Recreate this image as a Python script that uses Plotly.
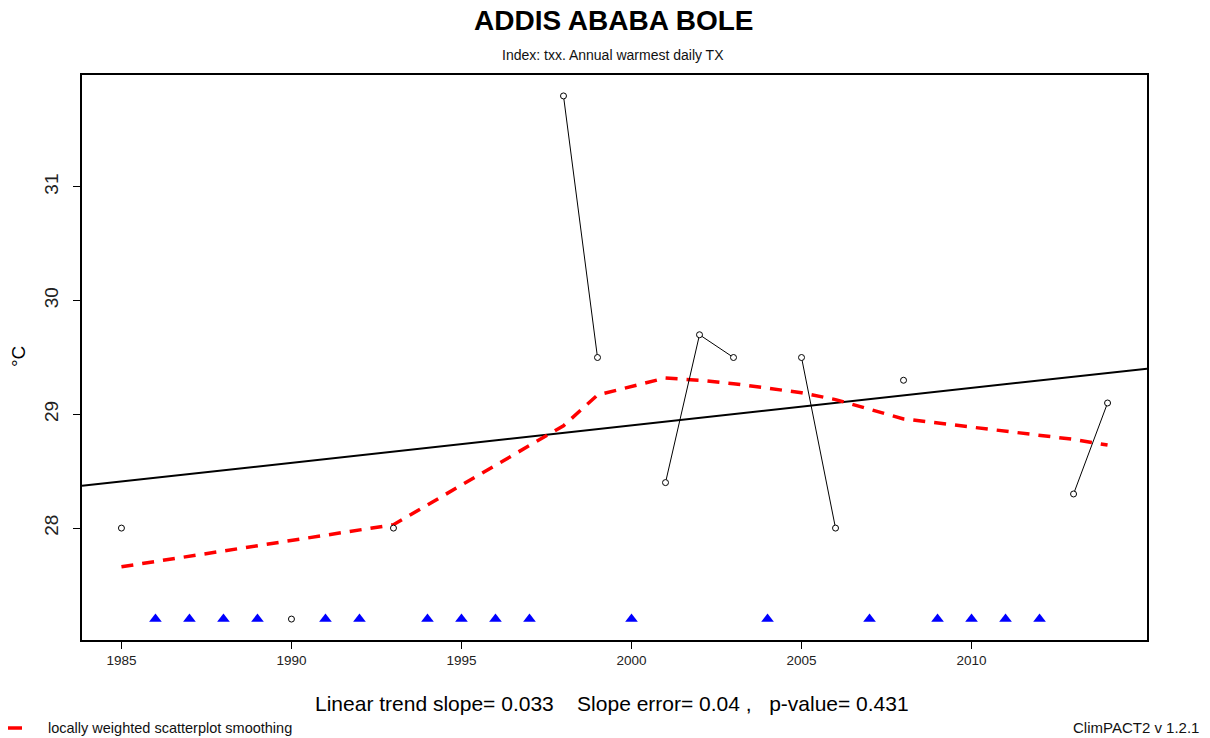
import numpy as np
import plotly.graph_objects as go

# Annual warmest daily maximum temperature (TXx), Addis Ababa Bole
data_years = [1985, 1990, 1993, 1998, 1999, 2001, 2002, 2003, 2005, 2006, 2008, 2013, 2014]
txx = [28.0, 27.2, 28.0, 31.8, 29.5, 28.4, 29.7, 29.5, 29.5, 28.0, 29.3, 28.3, 29.1]

# Years with no valid annual value
missing_years = [1986, 1987, 1988, 1989, 1991, 1992, 1994, 1995, 1996, 1997,
                 2000, 2004, 2007, 2009, 2010, 2011, 2012]

# Locally weighted smoothing evaluated at the observed years
loess_txx = [27.66, 27.89, 28.03, 28.90, 29.17, 29.32, 29.30, 29.27, 29.19, 29.13,
             28.96, 28.78, 28.73]

x_ticks = [1985, 1990, 1995, 2000, 2005, 2010]
y_ticks = [28, 29, 30, 31]

title_text = "ADDIS ABABA BOLE"
subtitle_text = "Index: txx. Annual warmest daily TX"
stats_text = "Linear trend slope= 0.033    Slope error= 0.04 ,   p-value= 0.431"
legend_text = "locally weighted scatterplot smoothing"
credit_text = "ClimPACT2 v 1.2.1"

FONT = "Liberation Sans, Arial, sans-serif"

# full yearly series with gaps so only consecutive years are joined
all_years = list(range(min(data_years), max(data_years) + 1))
lookup = dict(zip(data_years, txx))
series = [lookup.get(y) for y in all_years]

# axis extents with the usual 4% padding
x_lo, x_hi = min(all_years), max(all_years)
x_pad = (x_hi - x_lo) * 0.04
y_lo, y_hi = min(txx), max(txx)
y_pad = (y_hi - y_lo) * 0.04
x_range = [x_lo - x_pad, x_hi + x_pad]
y_range = [y_lo - y_pad, y_hi + y_pad]

# least-squares trend across the whole panel
slope, intercept = np.polyfit(data_years, txx, 1)
trend_x = x_range
trend_y = [slope * x + intercept for x in trend_x]

fig = go.Figure()

fig.add_trace(go.Scatter(
    x=trend_x, y=trend_y, mode="lines",
    line=dict(color="black", width=2), hoverinfo="skip", showlegend=False))

fig.add_trace(go.Scatter(
    x=data_years, y=loess_txx, mode="lines",
    line=dict(color="#ff0000", width=3.5, dash="12px,9px"),
    showlegend=False))

fig.add_trace(go.Scatter(
    x=all_years, y=series, mode="lines+markers", connectgaps=False,
    line=dict(color="black", width=1),
    marker=dict(symbol="circle", size=6, color="white",
                line=dict(color="black", width=1)),
    showlegend=False))

fig.add_trace(go.Scatter(
    x=missing_years, y=[y_lo] * len(missing_years), mode="markers",
    marker=dict(symbol="triangle-up", size=11, color="#0000ff",
                line=dict(width=0)),
    showlegend=False))

L, R, T, B = 82, 63, 75, 98
W, H = 1210, 738
pw, ph = W - L - R, H - T - B


def px(xp):
    return (xp - L) / pw


def py(yp):
    return (H - B - yp) / ph


annotations = [
    dict(text=f"<b>{title_text}</b>", x=px(613), y=py(20), xref="paper", yref="paper",
         showarrow=False, font=dict(family=FONT, size=28, color="black"),
         xanchor="center", yanchor="middle"),
    dict(text=subtitle_text, x=px(613), y=py(55), xref="paper", yref="paper",
         showarrow=False, font=dict(family=FONT, size=14, color="#111"),
         xanchor="center", yanchor="middle"),
    dict(text=stats_text.replace(" ", "\u00a0"), x=px(612), y=py(703), xref="paper", yref="paper",
         showarrow=False, font=dict(family=FONT, size=21, color="black"),
         xanchor="center", yanchor="middle"),
    dict(text=legend_text, x=px(46), y=py(728), xref="paper", yref="paper",
         showarrow=False, font=dict(family=FONT, size=14.5, color="#111"),
         xanchor="left", yanchor="middle"),
    dict(text=credit_text, x=px(1201), y=py(728), xref="paper", yref="paper",
         showarrow=False, font=dict(family=FONT, size=15, color="#111"),
         xanchor="right", yanchor="middle"),
    dict(text="°C", x=px(18), y=py(357), xref="paper", yref="paper",
         showarrow=False, textangle=-90, font=dict(family=FONT, size=19, color="black"),
         xanchor="center", yanchor="middle"),
]

shapes = [
    # legend key for the smoothing line
    dict(type="line", xref="paper", yref="paper",
         x0=px(8), x1=px(22), y0=py(728), y1=py(728),
         line=dict(color="#ff0000", width=3.5)),
]

fig.update_layout(
    width=W, height=H,
    margin=dict(l=L, r=R, t=T, b=B, pad=0),
    paper_bgcolor="white", plot_bgcolor="white",
    font=dict(family=FONT, color="black"),
    annotations=annotations, shapes=shapes,
    showlegend=False,
    xaxis=dict(range=x_range, tickvals=x_ticks, ticktext=[str(v) for v in x_ticks],
               showgrid=False, zeroline=False, showline=True, linecolor="black",
               linewidth=1.5, mirror=True, ticks="outside", ticklen=7,
               tickcolor="black", tickwidth=1,
               tickfont=dict(family=FONT, size=13.5, color="#222")),
    yaxis=dict(range=y_range, tickvals=y_ticks, ticktext=[str(v) for v in y_ticks],
               showgrid=False, zeroline=False, showline=True, linecolor="black",
               linewidth=1.5, mirror=True, ticks="outside", ticklen=7,
               tickcolor="black", tickwidth=1, tickangle=-90,
               ticklabelstandoff=8,
               tickfont=dict(family=FONT, size=19, color="#222")),
)

fig.write_html("out.html")
